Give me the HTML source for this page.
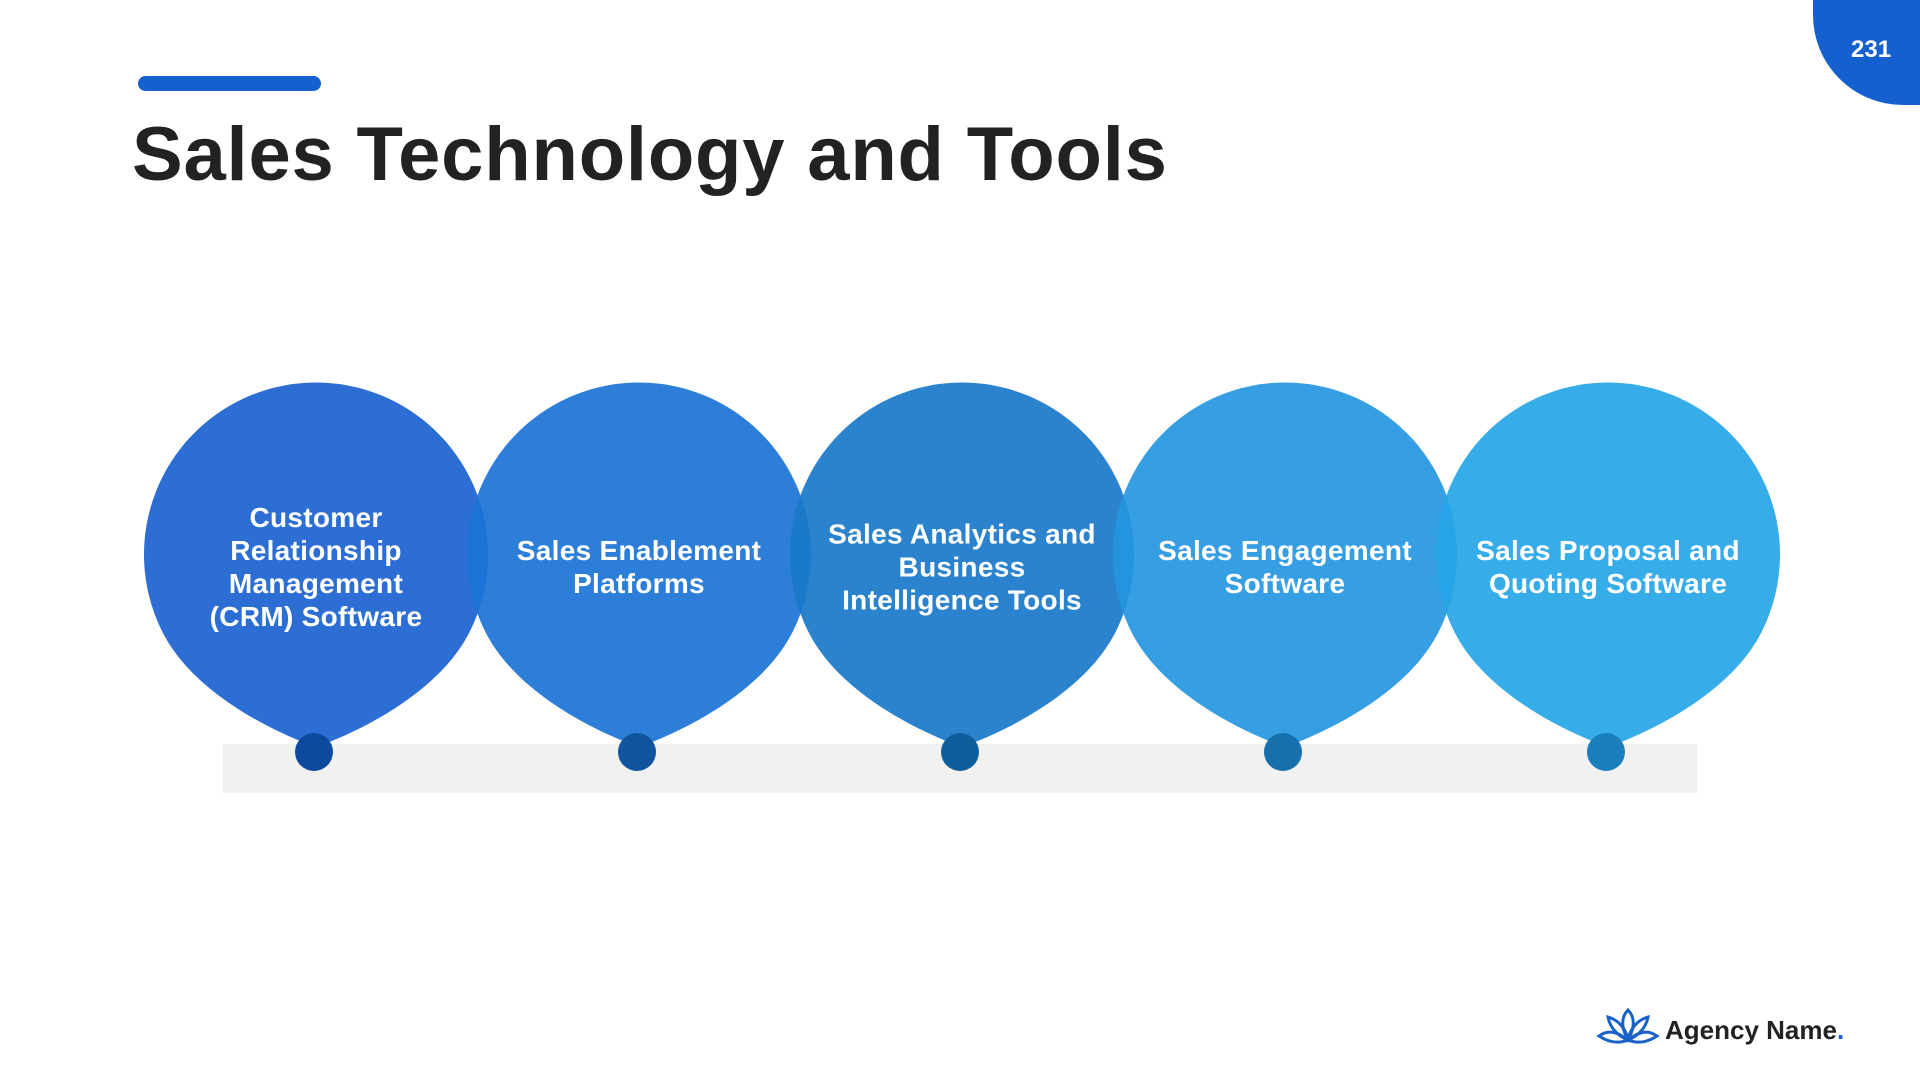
<!DOCTYPE html>
<html><head><meta charset="utf-8"><style>
body{margin:0;width:1920px;height:1080px;background:#fff;position:relative;overflow:hidden;font-family:"Liberation Sans",sans-serif}
.t{position:absolute;color:#fff;font-weight:bold;font-size:28px;line-height:33px;text-align:center;width:320px;white-space:nowrap;transform:translate(-50%,-50%);letter-spacing:0.3px}
</style></head><body>
<div style="position:absolute;left:138px;top:76px;width:183px;height:15px;border-radius:8px;background:#1560cf"></div>
<div style="position:absolute;left:132px;top:111px;font-size:76px;font-weight:bold;color:#222;letter-spacing:0.8px">Sales Technology and Tools</div>
<div style="position:absolute;left:1813px;top:-20px;width:140px;height:125px;background:#1560cf;border-radius:0 0 0 90px"></div>
<div style="position:absolute;left:1851px;top:36px;color:#fff;font-weight:bold;font-size:24px">231</div>
<div style="position:absolute;left:223px;top:744px;width:1474px;height:49px;background:#f1f1f1"></div>
<svg width="1920" height="1080" style="position:absolute;left:0;top:0">
<defs><path id="d" d="M0,192 C-40,178 -120,140 -152,80 A172,172 0 1 1 152,80 C120,140 40,178 0,192 Z"/></defs>
<use href="#d" transform="translate(316,555)" fill="#1a62cf" fill-opacity="0.92"/>
<use href="#d" transform="translate(639,555)" fill="#1a73d6" fill-opacity="0.92"/>
<use href="#d" transform="translate(962,555)" fill="#1a78c9" fill-opacity="0.92"/>
<use href="#d" transform="translate(1285,555)" fill="#2596df" fill-opacity="0.92"/>
<use href="#d" transform="translate(1608,555)" fill="#25a5e6" fill-opacity="0.92"/>
<circle cx="314" cy="752" r="19" fill="#0d4a9e"/>
<circle cx="637" cy="752" r="19" fill="#0f559e"/>
<circle cx="960" cy="752" r="19" fill="#0e5e9c"/>
<circle cx="1283" cy="752" r="19" fill="#1670ae"/>
<circle cx="1606" cy="752" r="19" fill="#1a7fba"/>
<g fill="none" stroke="#1a62c7" stroke-width="3">
<path d="M1628,1010 C1622,1016 1620,1026 1628,1040 C1636,1026 1634,1016 1628,1010Z"/>
<path d="M1608,1017 C1610,1028 1618,1036 1628,1040 C1626,1028 1618,1020 1608,1017Z"/>
<path d="M1648,1017 C1646,1028 1638,1036 1628,1040 C1630,1028 1638,1020 1648,1017Z"/>
<path d="M1599,1036 C1610,1028 1620,1034 1628,1040 C1618,1044 1608,1042 1599,1036Z"/>
<path d="M1657,1036 C1646,1028 1636,1034 1628,1040 C1638,1044 1648,1042 1657,1036Z"/>
</g>
</svg>
<div class="t" style="left:316px;top:567px">Customer<br>Relationship<br>Management<br>(CRM) Software</div>
<div class="t" style="left:639px;top:567px">Sales Enablement<br>Platforms</div>
<div class="t" style="left:962px;top:567px">Sales Analytics and<br>Business<br>Intelligence Tools</div>
<div class="t" style="left:1285px;top:567px">Sales Engagement<br>Software</div>
<div class="t" style="left:1608px;top:567px">Sales Proposal and<br>Quoting Software</div>
<div style="position:absolute;left:1665px;top:1015px;font-size:26px;font-weight:bold;color:#222">Agency Name<span style="color:#1a62c7">.</span></div>
</body></html>
